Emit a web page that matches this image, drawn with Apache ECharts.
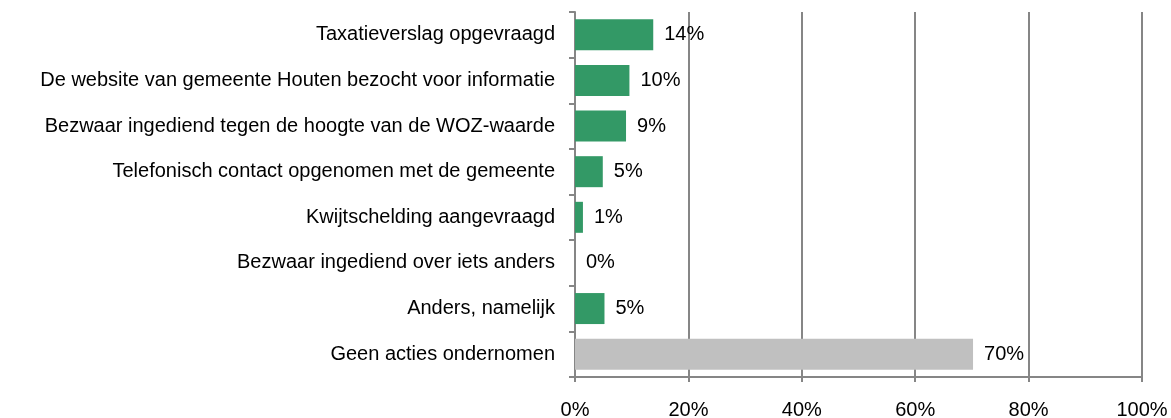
<!DOCTYPE html>
<html>
<head>
    <meta charset="utf-8">
    <title>Acties WOZ</title>
    <script src="https://cdn.jsdelivr.net/npm/echarts@6/dist/echarts.min.js"></script>
</head>
<body style="margin: 0">
<div id="container" style="width: 1171px; height: 418px"></div>
<script type="text/javascript">
// categorieen, van boven naar beneden
var categories = [
    'Taxatieverslag opgevraagd',
    'De website van gemeente Houten bezocht voor informatie',
    'Bezwaar ingediend tegen de hoogte van de WOZ-waarde',
    'Telefonisch contact opgenomen met de gemeente',
    'Kwijtschelding aangevraagd',
    'Bezwaar ingediend over iets anders',
    'Anders, namelijk',
    'Geen acties ondernomen'
];
var values = [13.8, 9.6, 9.0, 4.9, 1.4, 0, 5.2, 70.2];
var barColors = ['#339966', '#339966', '#339966', '#339966', '#339966', '#339966', '#339966', '#C0C0C0'];

var myChart = echarts.init(document.getElementById('container'));
var fontName = '"Liberation Sans", Arial, sans-serif';

var option = {
    animation: false,
    grid: {
        left: 575,
        right: 29,
        top: 12,
        bottom: 41,
        outerBoundsMode: 'none'
    },
    xAxis: {
        type: 'value',
        min: 0,
        max: 100,
        interval: 20,
        axisLine: { show: true, lineStyle: { color: '#868686', width: 2 } },
        axisTick: { show: true, length: 5, lineStyle: { color: '#868686', width: 2 } },
        splitLine: { show: true, lineStyle: { color: '#868686', width: 2 } },
        axisLabel: {
            formatter: '{value}%',
            color: '#000',
            fontSize: 20,
            fontFamily: fontName,
            margin: 23
        }
    },
    yAxis: {
        type: 'category',
        inverse: true,
        data: categories,
        axisLine: { show: true, lineStyle: { color: '#868686', width: 2 } },
        axisTick: { show: true, length: 6, lineStyle: { color: '#868686', width: 2 } },
        axisLabel: {
            color: '#000',
            fontSize: 20,
            fontFamily: fontName,
            margin: 20,
            padding: [4, 0, 0, 0]
        }
    },
    series: [{
        type: 'bar',
        barWidth: 31,
        data: values.map(function (v, i) {
            return { value: v, itemStyle: { color: barColors[i] } };
        }),
        label: {
            show: true,
            position: 'right',
            distance: 11,
            color: '#000',
            fontSize: 20,
            fontFamily: fontName,
            padding: [4, 0, 0, 0],
            formatter: function (p) { return Math.round(p.value) + '%'; }
        }
    }]
};
myChart.setOption(option);
</script>
</body>
</html>
